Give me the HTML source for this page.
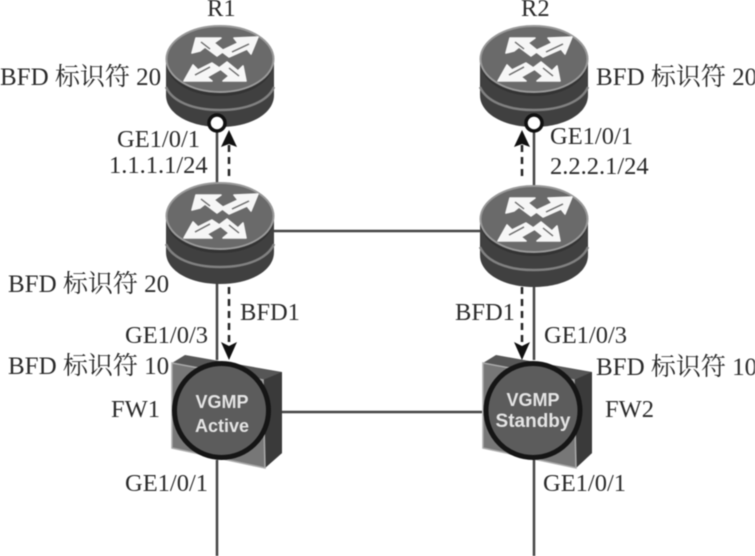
<!DOCTYPE html>
<html><head><meta charset="utf-8"><style>
html,body{margin:0;padding:0;background:#fff}
svg{display:block;filter:blur(.45px)}
text{font-family:"Liberation Serif","Noto Serif CJK SC",serif;font-size:24.5px;fill:#2a2a2a}
.b{font-size:25px}
.v{font-family:"Liberation Sans",sans-serif;font-weight:bold;font-size:18px;fill:#e4e4e4;text-anchor:middle}
</style></head><body>
<svg width="755" height="556" viewBox="0 0 755 556" xmlns="http://www.w3.org/2000/svg">
<defs>
<g id="r">
<path d="M-54 0V36C-54 55 -30 68 0 68S54 55 54 36V0Z" fill="#404040"/>
<path d="M-54 28C-48 42 -28 51 0 51S48 42 54 28" fill="none" stroke="#808080" stroke-width="2.5"/>
<path d="M-54 2C-54 22 -30 37 0 37S54 22 54 2" fill="#333"/>
<ellipse cx="0" cy="0" rx="53.5" ry="33" fill="#6a6a6a" stroke="#999" stroke-width="2"/>
<g fill="#f6f6f6" stroke="#f6f6f6" stroke-width="1.6" stroke-linejoin="round">
<path d="M-24 -21L1 -21L-6 -16L4 -8L-3 -3L-15 -12L-20 -8L-28 -6Z"/>
<path d="M38 -22L31 -5L27 -10L9 -2L1 -8L18 -16L14 -21Z"/>
<path d="M-36 22L-27 6L-22 11L-8 4L1 10L-13 18L-8 22Z"/>
<path d="M26 22L3 22L9 17L-1 9L7 3L18 12L23 7Z"/>
</g>
<g fill="none" stroke="#6a6a6a" stroke-width="1.4">
<path d="M-19 -17L-10 -10"/><path d="M29 -15L12 -7"/><path d="M-25 16L-10 8"/><path d="M19 17L9 9"/>
</g>
</g>
</defs>
<g stroke="#444" stroke-width="2.5" fill="none">
<path d="M217 120V190"/><path d="M534 120V195"/>
<path d="M217 280V360"/><path d="M534 280V360"/>
<path d="M217 460V556"/><path d="M534 460V556"/>
<path d="M274 231H480"/><path d="M282 412H482"/>
</g>
<use href="#r" x="220" y="59"/>
<use href="#r" x="534" y="59"/>
<use href="#r" x="220" y="216"/>
<use href="#r" x="534" y="219"/>
<circle cx="217" cy="123" r="8" fill="#fff" stroke="#111" stroke-width="3.5"/>
<circle cx="534" cy="123" r="8" fill="#fff" stroke="#111" stroke-width="3.5"/>
<g stroke="#222" stroke-width="2.5" stroke-dasharray="7 5" fill="none">
<path d="M229 176V144"/><path d="M522 176V144"/>
<path d="M229 287V346"/><path d="M522 287V346"/>
</g>
<g fill="#111">
<path d="M229 130L237 147L229 144L221 147Z"/>
<path d="M522 130L530 147L522 144L514 147Z"/>
<path d="M229 360L221 342L229 346L237 342Z"/>
<path d="M522 360L514 342L522 346L530 342Z"/>
</g>
<path d="M172 363L185 355L282 372V453L265 468L172 448Z" fill="#565656"/>
<path d="M263 380L282 372V453L265 468Z" fill="#3a3a3a"/>
<path d="M172 363L263 380L265 468L172 448Z" fill="#777" stroke="#aaa" stroke-width="1.5"/>
<path d="M483 363L496 355L592 372V453L576 468L483 448Z" fill="#565656"/>
<path d="M574 380L592 372V453L576 468Z" fill="#3a3a3a"/>
<path d="M483 363L574 380L576 468L483 448Z" fill="#777" stroke="#aaa" stroke-width="1.5"/>
<circle cx="221.5" cy="410.5" r="47" fill="#5c5c5c" stroke="#151515" stroke-width="5"/>
<circle cx="533" cy="410.5" r="47" fill="#5c5c5c" stroke="#151515" stroke-width="5"/>
<text class="v" x="222" y="408">VGMP</text>
<text class="v" x="222" y="432">Active</text>
<text class="v" x="533" y="406">VGMP</text>
<text class="v" x="533" y="427" style="font-size:19px">Standby</text>
<text x="207" y="16">R1</text>
<text x="521" y="16">R2</text>
<text class="b" x="0" y="85">BFD 标识符 20</text>
<text class="b" x="596" y="85">BFD 标识符 20</text>
<text x="117" y="147">GE1/0/1</text>
<text x="109" y="173">1.1.1.1/24</text>
<text x="550" y="144">GE1/0/1</text>
<text x="550" y="174">2.2.2.1/24</text>
<text class="b" x="8" y="292">BFD 标识符 20</text>
<text x="240" y="320">BFD1</text>
<text x="455" y="320">BFD1</text>
<text x="125" y="343">GE1/0/3</text>
<text x="544" y="343">GE1/0/3</text>
<text class="b" x="8" y="374">BFD 标识符 10</text>
<text class="b" x="596" y="375">BFD 标识符 10</text>
<text x="111" y="417">FW1</text>
<text x="605" y="417">FW2</text>
<text x="125" y="491">GE1/0/1</text>
<text x="543" y="491">GE1/0/1</text>
</svg>
</body></html>
